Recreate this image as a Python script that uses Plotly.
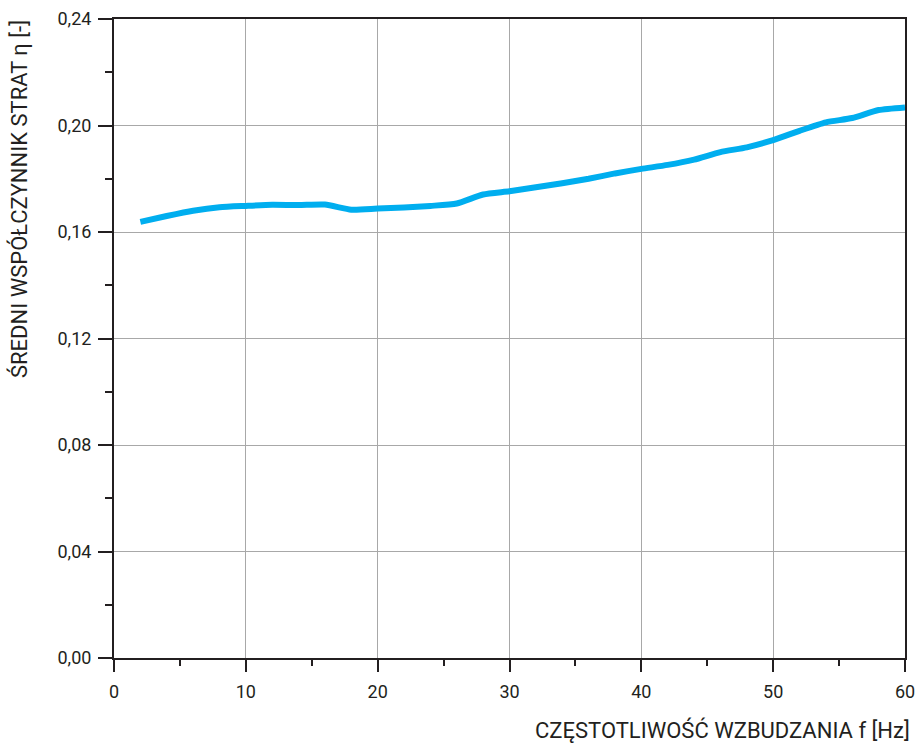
import plotly.graph_objects as go

freq = [2, 4, 6, 8, 10, 12, 14, 16, 18, 20, 22, 24, 26, 28, 30,
        32, 34, 36, 38, 40, 42, 44, 46, 48, 50, 52, 54, 56, 58, 60]
eta = [0.1638, 0.1660, 0.1680, 0.1693, 0.1698, 0.1702, 0.1701, 0.1703, 0.1684, 0.1688,
       0.1692, 0.1698, 0.1707, 0.1741, 0.1753, 0.1768, 0.1783, 0.1800, 0.1820, 0.1837,
       0.1852, 0.1872, 0.1900, 0.1918, 0.1945, 0.1980, 0.2012, 0.2028, 0.2058, 0.2068]

x_ticks = [0, 10, 20, 30, 40, 50, 60]
y_ticks = [0.00, 0.04, 0.08, 0.12, 0.16, 0.20, 0.24]
y_tick_labels = ["0,00", "0,04", "0,08", "0,12", "0,16", "0,20", "0,24"]

x_title = "CZĘSTOTLIWOŚĆ WZBUDZANIA f [Hz]"
y_title = "ŚREDNI WSPÓŁCZYNNIK STRAT η [-]"

FONT = "Roboto, Liberation Sans, sans-serif"
INK = "#231f20"

fig = go.Figure()
fig.add_trace(go.Scatter(
    x=freq, y=eta, mode="lines",
    line=dict(color="#00AEEF", width=6, shape="spline", smoothing=0.6),
    showlegend=False, hoverinfo="x+y",
))

fig.update_layout(
    width=920, height=745,
    margin=dict(l=114, r=15, t=19, b=87),
    paper_bgcolor="white", plot_bgcolor="white",
    font=dict(family=FONT, size=18, color=INK),
)

fig.update_xaxes(
    range=[0, 60], tickvals=x_ticks, ticktext=[str(v) for v in x_ticks],
    showline=True, linecolor=INK, linewidth=2, mirror=True,
    ticks="outside", ticklen=12, tickwidth=2, tickcolor=INK,
    minor=dict(dtick=5, tick0=0, ticks="outside", ticklen=6, tickwidth=2,
               tickcolor=INK, showgrid=False),
    showgrid=True, gridcolor="#a8a8a8", gridwidth=1,
    zeroline=False, tickfont=dict(size=18), ticklabelstandoff=4,
    automargin=False,
)
fig.update_yaxes(
    range=[0, 0.24], tickvals=y_ticks, ticktext=y_tick_labels,
    showline=True, linecolor=INK, linewidth=2, mirror=True,
    ticks="outside", ticklen=14, tickwidth=2, tickcolor=INK,
    minor=dict(dtick=0.02, tick0=0, ticks="outside", ticklen=7, tickwidth=2,
               tickcolor=INK, showgrid=False),
    showgrid=True, gridcolor="#a8a8a8", gridwidth=1,
    zeroline=False, tickfont=dict(size=18), ticklabelstandoff=3,
    automargin=False,
)

fig.add_annotation(
    text=x_title, xref="paper", yref="paper",
    x=1, y=0, xanchor="right", yanchor="middle", xshift=7, yshift=-72,
    showarrow=False, font=dict(family=FONT, size=22, color=INK),
)
fig.add_annotation(
    text=y_title, xref="paper", yref="paper", textangle=-90,
    x=0, y=1, xanchor="center", yanchor="top", xshift=-95, yshift=1,
    showarrow=False, font=dict(family=FONT, size=22, color=INK),
)

fig.write_html("out.html", config={"displayModeBar": False},
               post_script="document.body.style.margin='0';")
